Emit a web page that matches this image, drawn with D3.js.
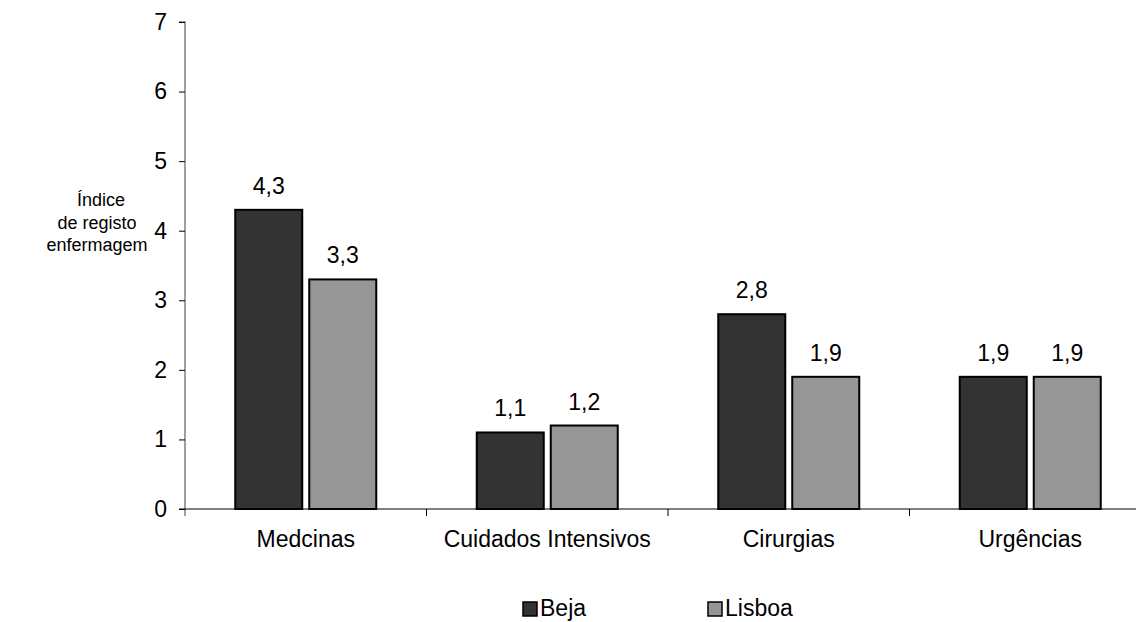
<!DOCTYPE html>
<html>
<head>
<meta charset="utf-8">
<script src="https://cdn.jsdelivr.net/npm/d3@7"></script>
<style>
  html, body { margin: 0; padding: 0; background: #fff; }
  svg { display: block; font-family: "Liberation Sans", Arial, sans-serif; }
</style>
</head>
<body>
<svg id="chart" width="1136" height="622"></svg>
<script>
// Nursing record index by service type, Beja vs Lisboa
const categories = ["Medcinas", "Cuidados Intensivos", "Cirurgias", "Urgências"];
const seriesNames = ["Beja", "Lisboa"];
const bejaValues = [4.3, 1.1, 2.8, 1.9];
const lisboaValues = [3.3, 1.2, 1.9, 1.9];
const yTicks = [0, 1, 2, 3, 4, 5, 6, 7];
const seriesColors = ["#333333", "#969696"];

(function () {
const svg = d3.select("#chart");
const plotLeft = 185, plotRight = 1151, plotTop = 22, plotBottom = 509;
const fontSize = 23;

const x0 = d3.scaleBand().domain(categories).range([plotLeft, plotRight]).paddingInner(0).paddingOuter(0);
const y = d3.scaleLinear().domain([0, 7]).range([plotBottom, plotTop]);

const barW = 67, gap = 7;
const fmt = v => d3.format(".1f")(v).replace(".", ",");

const rows = categories.map((c, i) => ({ cat: c, vals: [bejaValues[i], lisboaValues[i]] }));

// Bars
const groups = svg.append("g").selectAll("g").data(rows).join("g")
  .attr("transform", d => `translate(${x0(d.cat) + x0.bandwidth() / 2},0)`);

groups.selectAll("rect").data(d => d.vals.map((v, k) => ({ v, k }))).join("rect")
  .attr("x", d => d.k === 0 ? -gap / 2 - barW : gap / 2)
  .attr("y", d => y(d.v))
  .attr("width", barW)
  .attr("height", d => y(0) - y(d.v))
  .attr("fill", d => seriesColors[d.k])
  .attr("stroke", "#000")
  .attr("stroke-width", 2);

groups.selectAll("text.val").data(d => d.vals.map((v, k) => ({ v, k }))).join("text")
  .attr("class", "val")
  .attr("x", d => d.k === 0 ? -gap / 2 - barW / 2 : gap / 2 + barW / 2)
  .attr("y", d => y(d.v) - 16)
  .attr("text-anchor", "middle")
  .attr("font-size", fontSize)
  .attr("fill", "#000")
  .text(d => fmt(d.v));

// Y axis
const yAxis = svg.append("g").attr("transform", `translate(${plotLeft},0)`)
  .call(d3.axisLeft(y).tickValues(yTicks).tickSize(6).tickPadding(12).tickFormat(d3.format("d")));
yAxis.select(".domain").attr("stroke", "#808080").attr("stroke-width", 1.5)
  .attr("d", `M-6,${plotTop}H0V${plotBottom + 7}`);
yAxis.selectAll(".tick line").attr("stroke", "#000");
yAxis.selectAll(".tick text").attr("font-size", fontSize).attr("fill", "#000")
  .attr("font-family", "Liberation Sans, Arial, sans-serif");

// X axis
const xAxis = svg.append("g").attr("transform", `translate(0,${plotBottom})`);
xAxis.append("line").attr("x1", plotLeft - 6).attr("x2", 1136).attr("y1", 0).attr("y2", 0)
  .attr("stroke", "#000").attr("stroke-width", 1.2);
xAxis.selectAll("line.sep").data(categories.slice(1)).join("line")
  .attr("class", "sep")
  .attr("x1", d => x0(d)).attr("x2", d => x0(d))
  .attr("y1", 0).attr("y2", 7)
  .attr("stroke", "#000");
xAxis.selectAll("text").data(categories).join("text")
  .attr("x", d => x0(d) + x0.bandwidth() / 2)
  .attr("y", 38)
  .attr("text-anchor", "middle")
  .attr("font-size", fontSize)
  .text(d => d);

// Y axis title
const title = svg.append("text").attr("font-size", 18);
["Índice", "de registo", "enfermagem"].forEach((t, i) => {
  title.append("tspan")
    .attr("x", i === 0 ? 77 : 97)
    .attr("y", 206 + i * 22.5)
    .attr("text-anchor", i === 0 ? "start" : "middle")
    .text(t);
});

// Legend
const legend = svg.append("g");
const legendX = [523, 708];
seriesNames.forEach((n, i) => {
  legend.append("rect").attr("x", legendX[i]).attr("y", 602).attr("width", 14).attr("height", 14)
    .attr("fill", seriesColors[i]).attr("stroke", "#000").attr("stroke-width", 1.5);
  legend.append("text").attr("x", legendX[i] + 17).attr("y", 616).attr("font-size", fontSize).text(n);
});
})();
</script>
</body>
</html>
